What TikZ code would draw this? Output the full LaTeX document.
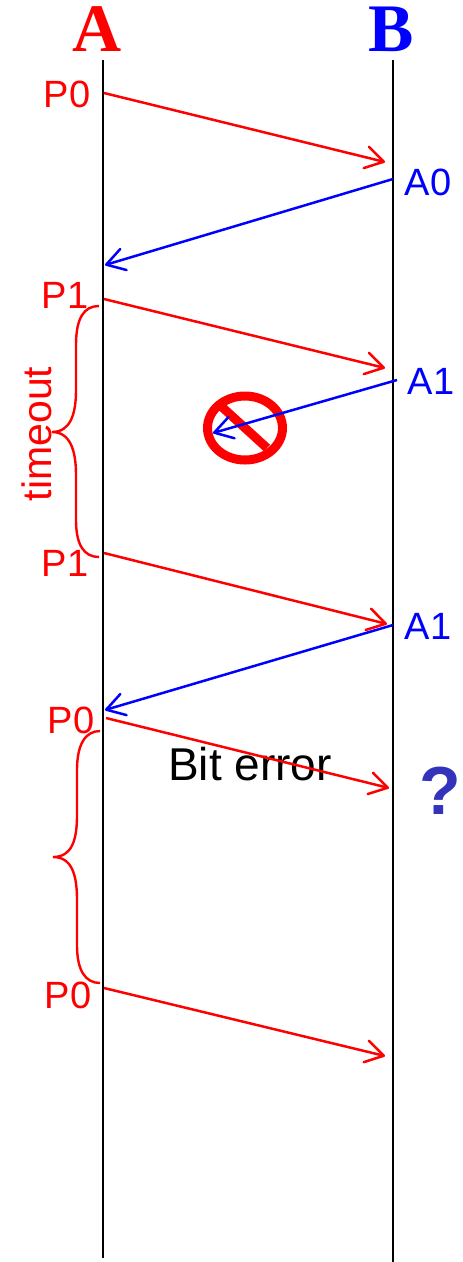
\documentclass[tikz,border=0pt]{standalone}
\usepackage{fontspec}
\setmainfont{Liberation Sans}
\newfontfamily\serifbold{Liberation Serif}
\usepackage{tikz}
\usetikzlibrary{arrows.meta,shapes.geometric}
\definecolor{queryblue}{RGB}{51,51,187}
\tikzset{
  x=1pt,y=-1pt,
  lifeline/.style={black,line width=2pt},
  hostlabel/.style={font=\serifbold\bfseries\fontsize{68}{68}\selectfont,inner sep=0pt},
  msgred/.style={red,line width=2.5pt,-{Straight Barb[length=18pt,width=22pt,round]}},
  msgblue/.style={blue,line width=2.5pt,-{Straight Barb[length=18pt,width=22pt,round]}},
  redlabel/.style={red,font=\fontsize{38}{38}\selectfont,inner sep=0pt},
  bluelabel/.style={blue,font=\fontsize{38}{38}\selectfont,inner sep=0pt},
  timeoutbrace/.style={red,line width=2.4pt}
}
\begin{document}
\begin{tikzpicture}
  \useasboundingbox (0,0) rectangle (463,1262);

  \node[hostlabel,red] (hostA) at (97,29) {A};
  \node[hostlabel,blue] (hostB) at (391,29) {B};

  \coordinate (topA) at (103,60);
  \coordinate (botA) at (103,1258);
  \coordinate (topB) at (393,60);
  \coordinate (botB) at (393,1262);
  \draw[lifeline] (topA) -- (botA);
  \draw[lifeline] (topB) -- (botB);

  \node[redlabel] (p0a) at (67,94) {P0};
  \node[redlabel] (p1a) at (65,295) {P1};
  \node[redlabel] (p1b) at (65,563) {P1};
  \node[redlabel] (p0b) at (71,720) {P0};
  \node[redlabel] (p0c) at (68,995) {P0};
  \node[bluelabel] (a0) at (428,182) {A0};
  \node[bluelabel] (a1a) at (431,381) {A1};
  \node[bluelabel] (a1b) at (428,626) {A1};
  \node[red,rotate=90,font=\fontsize{41}{41}\selectfont,inner sep=0pt] (timeout) at (37,434) {timeout};
  \node[font=\fontsize{46}{46}\selectfont,inner sep=0pt] (biterror) at (250,764) {Bit error};
  \node[queryblue,font=\bfseries\fontsize{68}{68}\selectfont,inner sep=0pt] (query) at (440,791) {?};

  \node[ellipse,draw=red,line width=9pt,minimum width=75pt,minimum height=64pt,inner sep=0pt] (noentry) at (245,428) {};
  \coordinate (slashA) at (222,407);
  \coordinate (slashB) at (267,448);
  \draw[red,line width=9pt] (slashA) -- (slashB);

  % messages
  \coordinate (s1) at (104,93);   \coordinate (e1) at (385,162);
  \coordinate (s2) at (393,179);  \coordinate (e2) at (105,265);
  \coordinate (s3) at (104,299);  \coordinate (e3) at (385,368);
  \coordinate (s4) at (397,380);  \coordinate (e4) at (213,433);
  \coordinate (s5) at (104,553);  \coordinate (e5) at (387,624);
  \coordinate (s6) at (393,625);  \coordinate (e6) at (105,710);
  \coordinate (s7) at (106,718);  \coordinate (e7) at (389,788);
  \coordinate (s8) at (104,988);  \coordinate (e8) at (385,1056);
  \draw[msgred] (s1) -- (e1);
  \draw[msgblue] (s2) -- (e2);
  \draw[msgred] (s3) -- (e3);
  \draw[msgblue] (s4) -- (e4);
  \draw[msgred] (s5) -- (e5);
  \draw[msgblue] (s6) -- (e6);
  \draw[msgred] (s7) -- (e7);
  \draw[msgred] (s8) -- (e8);

  % timeouts
  \draw[timeoutbrace] (99,306) .. controls (84,306) and (76,318) .. (76,345) -- (76,390) .. controls (76,415) and (70,432) .. (52,432) .. controls (70,432) and (76,450) .. (76,475) -- (76,520) .. controls (76,545) and (84,557) .. (99,557);
  \draw[timeoutbrace] (100,731) .. controls (85,731) and (77,745) .. (77,770) -- (77,815) .. controls (77,840) and (72,857) .. (53,857) .. controls (72,857) and (77,875) .. (77,900) -- (77,945) .. controls (77,970) and (85,983) .. (100,983);
\end{tikzpicture}
\end{document}
